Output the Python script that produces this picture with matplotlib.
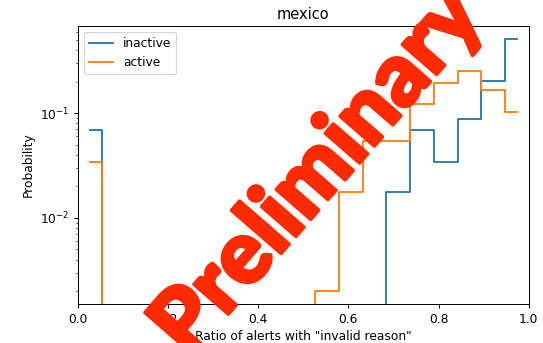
import numpy as np
import matplotlib
matplotlib.use("Agg")
import matplotlib.pyplot as plt
import matplotlib.patheffects as pe

# Histogram of the per-user ratio of alerts with "invalid reason" (19 equal bins on [0, 1])
bin_edges = np.linspace(0.0, 1.0, 20)
inactive_prob = [0.069, 0, 0, 0, 0, 0, 0, 0, 0, 0, 0, 0, 0,
                 0.0177, 0.069, 0.0343, 0.088, 0.205, 0.515]
active_prob = [0.034, 0, 0, 0, 0, 0, 0, 0, 0, 0, 0.00199, 0.0177,
               0.0547, 0.0547, 0.122, 0.196, 0.254, 0.165, 0.1035]
series_labels = ["inactive", "active"]
title = "mexico"

centers = 0.5 * (bin_edges[:-1] + bin_edges[1:])

dpi = 88
fig = plt.figure(figsize=(543 / dpi, 343 / dpi), dpi=dpi)
ax = fig.add_axes([78 / 543, 1 - 304 / 343, (528.7 - 78) / 543, (304 - 26) / 343])

ax.step(centers, inactive_prob, where="mid", label=series_labels[0], color="#1f77b4")
ax.step(centers, active_prob, where="mid", label=series_labels[1], color="#ff7f0e")
ax.set_yscale("log")
ax.set_xlim(0, 1)
ax.set_title(title)
ax.set_xlabel('Ratio of alerts with "invalid reason"')
ax.set_ylabel("Probability")
ax.legend(loc="upper left")

stamp_red = "#ff2a00"
fig.text(318 / 543, 1 - 172 / 343, "Preliminary", rotation=49,
         ha="center", va="center", rotation_mode="anchor",
         fontsize=72, fontweight="black", color=stamp_red,
         family=["Lato", "DejaVu Sans"], zorder=10,
         path_effects=[pe.Stroke(linewidth=3, foreground=stamp_red), pe.Normal()])

fig.savefig("out.png", dpi=dpi)
